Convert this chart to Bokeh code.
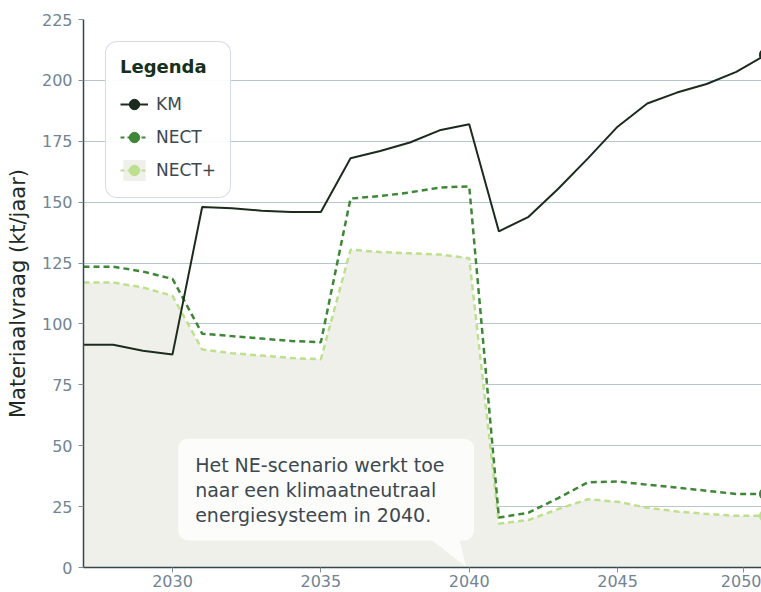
import numpy as np
from bokeh.plotting import figure
from bokeh.models import (ColumnDataSource, Range1d, FixedTicker, Legend, LegendItem,
                          BoxAnnotation, Label)
from bokeh.embed import file_html
from bokeh.resources import INLINE

# ---------------- data ----------------
YEARS = [2027, 2028, 2029, 2030, 2031, 2032, 2033, 2034, 2035, 2036, 2037, 2038,
         2039, 2040, 2041, 2042, 2043, 2044, 2045, 2046, 2047, 2048, 2049, 2050]
KM = [91.5, 91.5, 89.0, 87.5, 148.0, 147.5, 146.5, 146.0, 146.0, 168.0, 171.0, 174.5,
      179.5, 182.0, 138.0, 144.0, 155.5, 168.0, 181.0, 190.5, 195.0, 198.5, 203.5, 210.5]
NECT = [123.5, 123.5, 121.5, 118.5, 96.0, 95.0, 94.0, 93.0, 92.5, 151.5, 152.5, 154.0,
        156.0, 156.5, 20.5, 22.5, 28.5, 35.0, 35.3, 34.0, 32.8, 31.5, 30.2, 30.2]
NECT_PLUS = [117.0, 117.0, 115.0, 111.5, 89.5, 88.0, 87.0, 86.0, 85.5, 130.5, 129.5, 129.0,
             128.5, 127.0, 18.0, 19.5, 24.0, 28.0, 27.0, 24.5, 23.0, 22.0, 21.2, 21.2]
SERIES_NAMES = ["KM", "NECT", "NECT+"]
Y_TICKS = [0, 25, 50, 75, 100, 125, 150, 175, 200, 225]
X_TICKS = [2030, 2035, 2040, 2045, 2050]
Y_LABEL = "Materiaalvraag (kt/jaar)"
LEGEND_TITLE = "Legenda"
NOTE_TEXT = "Het NE-scenario werkt toe\nnaar een klimaatneutraal\nenergiesysteem in 2040."
NOTE_YEAR = 2040

# ---------------- style ----------------
FONT = "DejaVu Sans"
C_KM = "#1b2c1d"
C_NECT = "#3f8638"
C_NECTP = "#bde08f"
C_AREA = "#f0f0ea"
C_GRID = "#b6c6d3"
C_AXIS = "#36464d"
C_TICKLBL = "#718493"
C_TEXT = "#3d4850"
C_BOX = "#fcfcfb"

p = figure(width=761, height=592, output_backend="svg", toolbar_location=None,
           x_range=Range1d(2027, 2049.85), y_range=Range1d(0, 225),
           min_border_left=83, min_border_right=0, min_border_top=19, min_border_bottom=25)
p.outline_line_color = None
p.background_fill_color = "white"
p.border_fill_color = "white"

# grid
p.xgrid.visible = False
p.ygrid.grid_line_color = C_GRID
p.ygrid.grid_line_width = 1

# axes
last_shift = 0.76  # edge label justified inward
tick_pos = X_TICKS[:-1] + [X_TICKS[-1] - last_shift]
p.xaxis.ticker = FixedTicker(ticks=tick_pos, minor_ticks=[])
p.xaxis.major_label_overrides = {t: str(l) for t, l in zip(tick_pos, X_TICKS)}
p.yaxis.ticker = FixedTicker(ticks=Y_TICKS, minor_ticks=[])
for ax in (p.xaxis[0], p.yaxis[0]):
    ax.axis_line_color = C_AXIS
    ax.axis_line_width = 1.5
    ax.major_tick_line_color = "#7f919e"
    ax.major_tick_out = 5
    ax.major_tick_in = 0
    ax.minor_tick_line_color = None
    ax.major_label_text_font = FONT
    ax.major_label_text_font_size = "16px"
    ax.major_label_text_color = C_TICKLBL
p.xaxis.major_label_standoff = 2
p.yaxis.major_label_standoff = 6
p.yaxis.axis_label = Y_LABEL
p.yaxis.axis_label_text_font = FONT
p.yaxis.axis_label_text_font_size = "21px"
p.yaxis.axis_label_text_font_style = "normal"
p.yaxis.axis_label_text_color = "#1e2b24"
p.yaxis.axis_label_standoff = 9

# ---------------- glyphs ----------------
src = ColumnDataSource(data=dict(x=YEARS, km=KM, nect=NECT, nectp=NECT_PLUS))
p.varea(x="x", y1=0, y2="nectp", source=src, fill_color=C_AREA)
p.line(x="x", y="nectp", source=src, line_color=C_NECTP, line_width=2.5, line_dash="6 4")
p.line(x="x", y="nect", source=src, line_color=C_NECT, line_width=2.5, line_dash="6 4")
p.line(x="x", y="km", source=src, line_color=C_KM, line_width=2)

end_src = ColumnDataSource(data=dict(x=[YEARS[-1]] * 3, y=[KM[-1], NECT[-1], NECT_PLUS[-1]],
                                     c=[C_KM, C_NECT, C_NECTP]))
p.scatter(x="x", y="y", source=end_src, size=13, fill_color="c", line_color="c")

# callout
box_left, box_right, box_bottom, box_top = 2030.19, NOTE_YEAR + 0.16, 11.1, 52.9
box = BoxAnnotation(left=box_left, right=box_right, bottom=box_bottom, top=box_top,
                    fill_color=C_BOX, fill_alpha=1.0, line_color=None)
if "border_radius" in BoxAnnotation.properties():
    box.border_radius = 10
p.add_layout(box)
p.patch(x=[NOTE_YEAR - 1.35, NOTE_YEAR - 0.34, NOTE_YEAR - 0.11],
        y=[box_bottom + 1, box_bottom + 1, 0.3], fill_color=C_BOX, line_color=None)
p.add_layout(Label(x=box_left, y=46.5, x_offset=17, text=NOTE_TEXT, text_font=FONT,
                   text_font_size="19px", text_color=C_TEXT, text_baseline="top",
                   text_align="left", text_line_height=1.12))

# ---------------- legend (proxies, not visible in plot area) ----------------
def proxy():
    return ColumnDataSource(data=dict(x=np.array([np.nan]), y=np.array([np.nan]),
                                      y1=np.array([np.nan]), y2=np.array([np.nan])))

km_l = p.line(x="x", y="y", source=proxy(), line_color=C_KM, line_width=2)
km_d = p.scatter(x="x", y="y", source=proxy(), size=8, color=C_KM)
ne_l = p.line(x="x", y="y", source=proxy(), line_color=C_NECT, line_width=2, line_dash="4 3")
ne_d = p.scatter(x="x", y="y", source=proxy(), size=8, color=C_NECT)
np_a = p.varea(x="x", y1="y1", y2="y2", source=proxy(), fill_color=C_AREA)
np_l = p.line(x="x", y="y", source=proxy(), line_color=C_NECTP, line_width=2, line_dash="4 3")
np_d = p.scatter(x="x", y="y", source=proxy(), size=9, color=C_NECTP)

legend = Legend(items=[LegendItem(label=SERIES_NAMES[0], renderers=[km_l, km_d]),
                       LegendItem(label=SERIES_NAMES[1], renderers=[ne_l, ne_d]),
                       LegendItem(label=SERIES_NAMES[2], renderers=[np_a, np_l, np_d])],
                location="top_left", title=LEGEND_TITLE)
legend.title_text_font = FONT
legend.title_text_font_size = "18px"
legend.title_text_font_style = "bold"
legend.title_text_color = "#15301b"
legend.title_standoff = 14
legend.label_text_font = FONT
legend.label_text_font_size = "17px"
legend.label_text_color = C_TEXT
legend.border_line_color = "#a9bccb"
legend.border_line_width = 1
legend.background_fill_color = "white"
legend.background_fill_alpha = 0.9
legend.padding = 14
legend.spacing = 7
legend.margin = 22
legend.glyph_width = 28
legend.glyph_height = 26
legend.label_height = 26
legend.label_standoff = 8
if "border_radius" in Legend.properties():
    legend.border_radius = 12
p.add_layout(legend)

open("out.html", "w").write(file_html(p, INLINE))
